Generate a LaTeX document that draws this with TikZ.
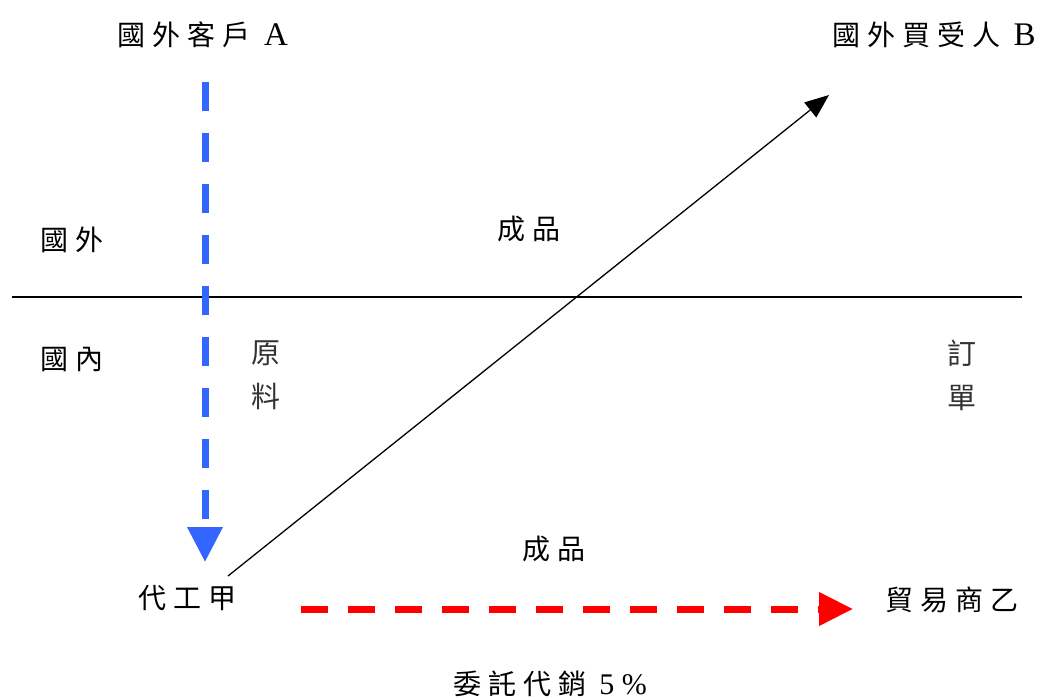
\documentclass[tikz,border=0pt]{standalone}
\usepackage{fontspec}
\setmainfont{Liberation Serif}
\newfontfamily\cjk[LetterSpace=25]{Noto Sans CJK TC}
\newfontfamily\cjkplain{Noto Sans CJK TC}
\usetikzlibrary{arrows.meta}
\newcommand{\lat}[1]{{\rmfamily\fontsize{33}{36}\selectfont #1}}
\begin{document}
\begin{tikzpicture}[x=1pt,y=-1pt,
  lbl/.style={inner sep=0pt, font=\cjk\fontsize{28}{32}\selectfont},
  vlbl/.style={inner sep=0pt, align=center, text=black!80, font=\cjkplain\fontsize{29}{44}\selectfont},
  bluearrow/.style={draw={rgb,255:red,51;green,102;blue,255}, line width=7pt, dash pattern=on 29pt off 22pt,
    -{Triangle[length=35pt,width=34pt,fill={rgb,255:red,51;green,102;blue,255}]}},
  redarrow/.style={draw=red, line width=7pt, dash pattern=on 27pt off 20pt,
    -{Triangle[length=34pt,width=32pt,fill=red]}},
  blackarrow/.style={draw=black, line width=1.3pt, -{Triangle[length=24pt,width=19pt]}}
]
\useasboundingbox (0,0) rectangle (1047,700);
\node[lbl] (A) at (203,35) {國外客戶\ \lat{A}};
\node[lbl] (B) at (934,35) {國外買受人\ \lat{B}};
\node[lbl] (gw) at (72,240) {國外};
\node[lbl] (gn) at (72,360) {國內};
\node[lbl] (cp1) at (529,229) {成品};
\node[lbl] (cp2) at (554,549) {成品};
\node[vlbl] (yl) at (266,375) {原\\料};
\node[vlbl] (dd) at (962,375) {訂\\單};
\node[lbl] (dg) at (187,598) {代工甲};
\node[lbl] (my) at (952,600) {貿易商乙};
\node[lbl] (wt) at (550,684) {委託代銷\ \lat{\fontsize{30}{32}\selectfont 5 \%}};
\coordinate (L1) at (12,297);
\coordinate (L2) at (1022,297);
\draw[line width=1.2pt] (L1) -- (L2);
\coordinate (b1) at (205,82);
\coordinate (b2) at (205,562);
\draw[bluearrow] (b1) -- (b2);
\coordinate (r1) at (301,609);
\coordinate (r2) at (853,609);
\draw[redarrow] (r1) -- (r2);
\coordinate (k1) at (228,576);
\coordinate (k2) at (829,95);
\draw[blackarrow] (k1) -- (k2);
\end{tikzpicture}
\end{document}
